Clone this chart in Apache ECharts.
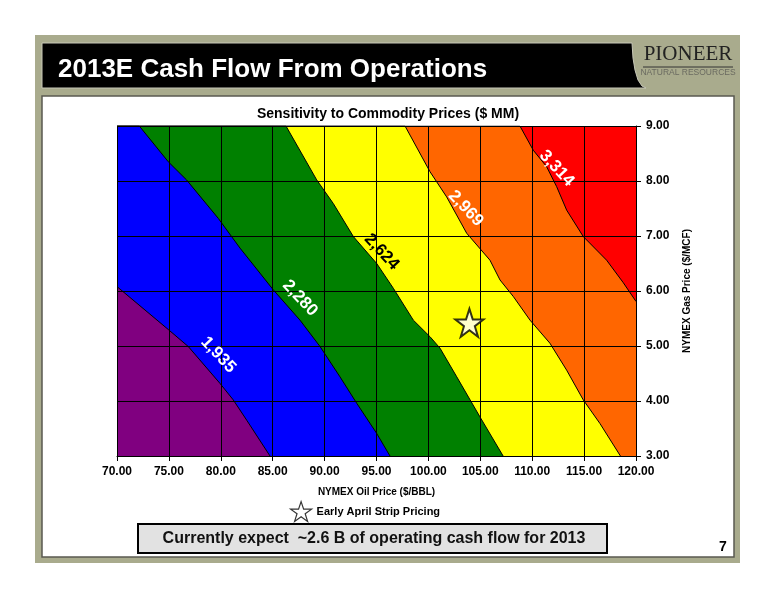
<!DOCTYPE html>
<html>
<head>
<meta charset="utf-8">
<script src="https://cdn.jsdelivr.net/npm/echarts@6/dist/echarts.min.js"></script>
<style>
html,body{margin:0;padding:0;background:#fff;}
#chart{width:776px;height:600px;}
</style>
</head>
<body>
<div id="chart"></div>
<script>
// ---- Data ----
const oilRange = [70, 120];   // NYMEX oil price ($/BBL)
const gasRange = [3, 9];      // NYMEX gas price ($/MCF)
const contourLevels = ['1,935', '2,280', '2,624', '2,969', '3,314'];
const bandColors = ['#800080', '#0000ff', '#008000', '#ffff00', '#ff6600', '#ff0000'];

// contour boundaries: [oil, gas] points
const contour1935 = [[70,6.08],[74.94,5.30],[76.87,4.99],[79.92,4.32],[81.2,4.02],[82.5,3.65],[84.74,3.0]];
const contour2280 = [[72.15,9],[74.94,8.35],[76.7,8.02],[79.76,7.32],[81.85,6.78],[85.06,6.02],[87.63,5.47],[89.56,4.99],[91.48,4.44],[93.09,3.96],[95.02,3.41],[96.3,3.0]];
const contour2624 = [[86.28,9],[89.24,8.02],[90.84,7.59],[92.77,6.99],[95.02,6.5],[96.62,6.05],[98.55,5.47],[100.15,5.17],[101.12,4.96],[102.73,4.44],[104.97,3.71],[107.2,3.0]];
const contour2969 = [[97.75,9],[100.15,8.17],[101.76,7.71],[103.69,7.05],[105.93,6.56],[106.9,6.2],[108.18,5.90],[109.79,5.47],[111.71,5.05],[113.32,4.56],[114.92,4.02],[116.53,3.59],[118.5,3.0]];
const contour3314 = [[108.82,9],[110.1,8.56],[111.39,8.26],[112.35,7.90],[113.32,7.47],[114.92,6.99],[117.17,6.56],[118.78,6.15],[120,5.81]];
const contours = [contour1935, contour2280, contour2624, contour2969, contour3314];

// contour label anchors
const labelOil = [79.76, 87.63, 95.5, 103.6, 112.35];
const labelGas = [4.84, 5.87, 6.71, 7.50, 8.23];
const labelColors = ['#ffffff', '#ffffff', '#000000', '#ffffff', '#ffffff'];

// Early April strip pricing point
const stripName = 'Early April Strip Pricing';
const stripOil = [103.95];
const stripGas = [5.42];

// ---- Chart ----
const FONT = 'Liberation Sans, Arial, sans-serif';
const starPath = 'path://M50,0 L61.8,35.1 L98.8,35.1 L68.9,56.7 L80.2,91.9 L50,70.2 L19.8,91.9 L31.1,56.7 L1.2,35.1 L38.2,35.1 Z';

function fillBelow(pts) {
  const d = pts.slice();
  if (d[0][1] >= gasRange[1] && d[0][0] > oilRange[0]) d.unshift([oilRange[0], gasRange[1]]);
  return d;
}

const series = [];
// draw from highest contour down so lower bands paint on top
for (let i = contours.length - 1; i >= 0; i--) {
  series.push({
    type: 'line',
    name: contourLevels[i],
    data: fillBelow(contours[i]),
    showSymbol: false,
    symbol: 'none',
    smooth: false,
    clip: true,
    lineStyle: { color: '#000', width: 1 },
    areaStyle: { color: bandColors[i], opacity: 1, origin: 'start' },
    z: 2,
    silent: true
  });
}
series.push({
  type: 'scatter',
  name: 'labels',
  data: labelOil.map((x, i) => ({
    value: [x, labelGas[i]],
    name: contourLevels[i],
    label: { color: labelColors[i] }
  })),
  symbolSize: 2,
  itemStyle: { color: 'rgba(0,0,0,0)' },
  label: {
    show: true,
    position: 'inside',
    formatter: p => p.name,
    rotate: -47,
    fontFamily: FONT,
    fontWeight: 'bold',
    fontSize: 17,
    textBorderWidth: 0,
    textBorderColor: 'transparent',
    opacity: 1
  },
  z: 12,
  silent: true
});
series.push({
  type: 'scatter',
  name: stripName,
  data: stripOil.map((x, i) => [x, stripGas[i]]),
  symbol: starPath,
  symbolSize: 28,
  itemStyle: { color: '#ffffff', borderColor: '#000', borderWidth: 2 },
  z: 12,
  silent: true
});

const option = {
  animation: false,
  backgroundColor: '#ffffff',
  graphic: [
    { type: 'rect', z: -20, shape: { x: 35, y: 35, width: 705, height: 528 }, style: { fill: '#a9ab8d' } },
    { type: 'rect', z: -19, shape: { x: 42, y: 96, width: 692, height: 461 }, style: { fill: '#ffffff', stroke: '#5a5a50', lineWidth: 1.5 } },
    { type: 'polygon', z: -19, shape: { points: [[42,43],[632,43],[633,58],[635,70],[638,80],[642,86],[646,88],[42,88]] }, style: { fill: '#000000', stroke: '#c8c8b8', lineWidth: 1 } },
    { type: 'text', z: 10, style: { x: 688, y: 65, text: 'PIONEER', fill: '#222', font: '21px "Liberation Serif", serif', textAlign: 'center', textVerticalAlign: 'bottom' } },
    { type: 'line', z: 10, shape: { x1: 643, y1: 67, x2: 733, y2: 67 }, style: { stroke: '#333', lineWidth: 1 } },
    { type: 'text', z: 10, style: { x: 688, y: 73, text: 'NATURAL RESOURCES', fill: '#6a6a60', font: '8.5px "Liberation Sans", sans-serif', textAlign: 'center', textVerticalAlign: 'middle' } },
    { type: 'rect', z: 10, shape: { x: 138, y: 524, width: 469, height: 29 }, style: { fill: '#e2e2e2', stroke: '#000', lineWidth: 2 } },
    { type: 'text', z: 11, style: { x: 374, y: 539, text: 'Currently expect  ~2.6 B of operating cash flow for 2013', fill: '#111', font: 'bold 16px "Liberation Sans", sans-serif', textAlign: 'center', textVerticalAlign: 'middle' } },
    { type: 'text', z: 11, style: { x: 723, y: 547, text: '7', fill: '#000', font: 'bold 14px "Liberation Sans", sans-serif', textAlign: 'center', textVerticalAlign: 'middle' } }
  ],
  title: [
    { text: '2013E Cash Flow From Operations', left: 53, top: 52, textStyle: { color: '#fff', fontFamily: FONT, fontWeight: 'bold', fontSize: 26 } },
    { text: 'Sensitivity to Commodity Prices ($ MM)', left: 'center', top: 102, textAlign: 'left', textStyle: { color: '#000', fontFamily: FONT, fontWeight: 'bold', fontSize: 14 } }
  ],
  legend: {
    data: [stripName],
    left: 285, top: 496,
    itemWidth: 21, itemHeight: 21, itemGap: 4,
    itemStyle: { borderWidth: 1.2 },
    textStyle: { fontFamily: FONT, fontWeight: 'bold', fontSize: 11, color: '#000' }
  },
  grid: {
    left: 117, top: 126, width: 519, height: 330,
    show: true, backgroundColor: bandColors[5], borderWidth: 0
  },
  xAxis: {
    type: 'value', min: oilRange[0], max: oilRange[1], interval: 5,
    z: 10,
    name: 'NYMEX Oil Price ($/BBL)', nameLocation: 'middle', nameGap: 31,
    nameTextStyle: { fontFamily: FONT, fontWeight: 'bold', fontSize: 10, color: '#000' },
    axisLine: { show: true, lineStyle: { color: '#000', width: 1 } },
    axisTick: { show: true, length: 5, lineStyle: { color: '#000' } },
    axisLabel: { formatter: v => v.toFixed(2), fontFamily: FONT, fontWeight: 'bold', fontSize: 12, color: '#000', margin: 10 },
    splitLine: { show: true, lineStyle: { color: '#000', width: 1 } }
  },
  yAxis: {
    type: 'value', min: gasRange[0], max: gasRange[1], interval: 1, position: 'right',
    z: 10,
    name: 'NYMEX Gas Price ($/MCF)', nameLocation: 'middle', nameGap: 46, nameRotate: 90,
    nameTextStyle: { fontFamily: FONT, fontWeight: 'bold', fontSize: 10, color: '#000' },
    axisLine: { show: true, lineStyle: { color: '#000', width: 1 } },
    axisTick: { show: true, length: 5, lineStyle: { color: '#000' } },
    axisLabel: { formatter: v => v.toFixed(2), fontFamily: FONT, fontWeight: 'bold', fontSize: 12, color: '#000', margin: 10 },
    splitLine: { show: true, lineStyle: { color: '#000', width: 1 } }
  },
  series: series
};

const chart = echarts.init(document.getElementById('chart'), null, { renderer: 'canvas' });
chart.setOption(option);
</script>
</body>
</html>
